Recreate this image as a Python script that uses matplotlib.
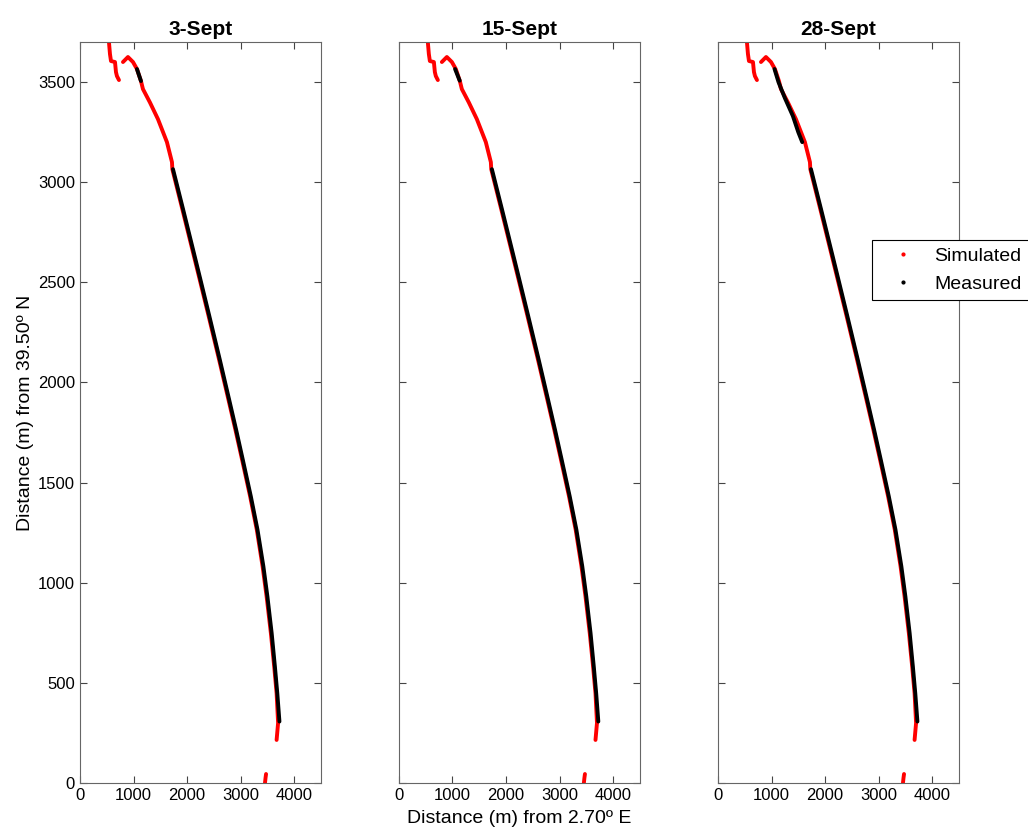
import numpy as np
import matplotlib
matplotlib.use("Agg")
import matplotlib.pyplot as plt
from matplotlib.lines import Line2D

plt.rcParams['font.family'] = ['Liberation Sans', 'DejaVu Sans']

titles = ["3-Sept", "15-Sept", "28-Sept"]

# simulated track (same in all three panels), nan separates pieces
sim_x = [541, 560, 579, 654, 672, 690, 728, np.nan,
         803, 896, 990, 1064, 1139, 1176, 1307, 1456, 1624, 1718, 1725,
         1912, 2097, 2235, 2402, 2597, 2772, 2902, 3027, 3177, 3302, 3410,
         3485, 3565, 3627, 3672, 3700, 3672, np.nan,
         3455, 3465, 3475]
sim_y = [3700, 3640, 3605, 3600, 3550, 3530, 3510, np.nan,
         3600, 3625, 3600, 3565, 3505, 3465, 3398, 3315, 3200, 3100, 3065,
         2865, 2665, 2515, 2332, 2115, 1915, 1765, 1615, 1432, 1265, 1082,
         932, 748, 582, 448, 300, 215, np.nan,
         0, 25, 45]

# measured track, lower part shared by all days
meas_low_x = [1737, 1925, 2110, 2248, 2415, 2610, 2785, 2915, 3040, 3190,
              3315, 3425, 3500, 3580, 3640, 3685, 3725]
meas_low_y = [3065, 2865, 2665, 2515, 2332, 2115, 1915, 1765, 1615, 1432,
              1265, 1082, 932, 748, 582, 448, 307]

# upper measured pieces per day
meas_top_x = [[1064, 1139], [1050, 1136],
              [1056, 1130, 1250, 1400, 1500, 1574]]
meas_top_y = [[3565, 3505], [3565, 3507],
              [3565, 3500, 3420, 3330, 3250, 3200]]

fig = plt.figure(figsize=(10.28, 8.3), dpi=100)
lefts = [0.0778, 0.388, 0.6984]

for i, ttl in enumerate(titles):
    ax = fig.add_axes([lefts[i], 0.0566, 0.2344, 0.8928])
    ax.plot(sim_x, sim_y, color='red', lw=2.8, solid_capstyle='round')
    ax.plot(meas_top_x[i], meas_top_y[i], color='black', lw=2.8,
            solid_capstyle='round')
    ax.plot(meas_low_x, meas_low_y, color='black', lw=2.8,
            solid_capstyle='round')
    ax.set_xlim(0, 4500)
    ax.set_ylim(0, 3700)
    ax.set_xticks([0, 1000, 2000, 3000, 4000])
    ax.set_yticks(np.arange(0, 3501, 500))
    ax.tick_params(direction='in', top=True, right=True, length=5,
                   labelsize=12, color='#444444', width=0.8)
    for s in ax.spines.values():
        s.set_color('#666666')
        s.set_linewidth(0.8)
    ax.set_title(ttl, fontsize=15, fontweight='bold', pad=5)
    if i == 0:
        ax.set_ylabel("Distance (m) from 39.50º N", fontsize=14, labelpad=3)
    else:
        ax.set_yticklabels([])
    if i == 1:
        ax.set_xlabel("Distance (m) from 2.70º E", fontsize=14, labelpad=5)

handles = [Line2D([], [], color='red', marker='.', ls='', markersize=4),
           Line2D([], [], color='black', marker='.', ls='', markersize=4)]
leg = fig.legend(handles, ["Simulated", "Measured"], loc='upper left',
                 bbox_to_anchor=(0.848, 0.711), bbox_transform=fig.transFigure,
                 fontsize=14, fancybox=False, framealpha=1, edgecolor='black',
                 handlelength=2.4, handletextpad=0.4, borderpad=0.4,
                 labelspacing=0.5, borderaxespad=0)
leg.get_frame().set_linewidth(0.8)

fig.savefig("out.png", dpi=100)
